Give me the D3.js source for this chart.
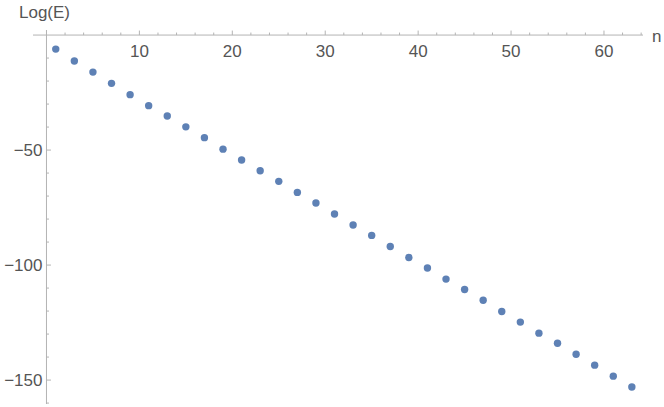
<!DOCTYPE html>
<html><head><meta charset="utf-8">
<script src="https://cdn.jsdelivr.net/npm/d3@7"></script>
<style>
html,body{margin:0;padding:0;background:#fff;}
svg{display:block;}
text{font-family:"Liberation Sans",Arial,sans-serif;fill:#555;}
</style></head>
<body>
<svg id="c" width="664" height="407"></svg>
<script>
const nValues = [1,3,5,7,9,11,13,15,17,19,21,23,25,27,29,31,33,35,37,39,41,43,45,47,49,51,53,55,57,59,61,63];
const logE = [-6.1,-11.3,-16.1,-21.0,-25.9,-30.7,-35.2,-39.9,-44.6,-49.6,-54.3,-59.0,-63.6,-68.4,-73.0,-77.8,-82.6,-87.1,-91.9,-96.7,-101.3,-106.1,-110.6,-115.3,-120.2,-124.8,-129.6,-134.0,-138.8,-143.5,-148.3,-153.0];
const xMajorTicks = [10,20,30,40,50,60];
const xMinorTicks = [2,4,6,8,12,14,16,18,22,24,26,28,32,34,36,38,42,44,46,48,52,54,56,58,62,64];
const yMajorTicks = [-50,-100,-150];
const yMinorTicks = [-10,-20,-30,-40,-60,-70,-80,-90,-110,-120,-130,-140,-160];
const xLabel = "n", yLabel = "Log(E)";

const svg = d3.select("#c");
const x = d3.scaleLinear().domain([-1.45, 64.2]).range([33, 643]);
const y = d3.scaleLinear().domain([2.2, -160.4]).range([30, 404]);
const axisColor = "#b3b3b3";
const x0 = x(0), y0 = y(0);

// x axis line
svg.append("line").attr("x1", x.range()[0]).attr("x2", x.range()[1])
  .attr("y1", y0).attr("y2", y0).attr("stroke", axisColor).attr("stroke-width", 1);
// y axis line
svg.append("line").attr("x1", x0).attr("x2", x0)
  .attr("y1", y.range()[0]).attr("y2", y.range()[1]).attr("stroke", axisColor).attr("stroke-width", 1);

// x ticks (pointing up)
svg.selectAll(".xmaj").data(xMajorTicks).enter().append("line")
  .attr("x1", d => x(d)).attr("x2", d => x(d)).attr("y1", y0).attr("y2", y0 - 4.5)
  .attr("stroke", axisColor);
svg.selectAll(".xmin").data(xMinorTicks).enter().append("line")
  .attr("x1", d => x(d)).attr("x2", d => x(d)).attr("y1", y0).attr("y2", y0 - 2.5)
  .attr("stroke", axisColor);
svg.selectAll(".xlab").data(xMajorTicks).enter().append("text")
  .attr("x", d => x(d)).attr("y", y0 + 22).attr("text-anchor", "middle")
  .style("font-size", "17px").text(d => d);

// y ticks (pointing right)
svg.selectAll(".ymaj").data(yMajorTicks).enter().append("line")
  .attr("x1", x0).attr("x2", x0 + 4.5).attr("y1", d => y(d)).attr("y2", d => y(d))
  .attr("stroke", axisColor);
svg.selectAll(".ymin").data(yMinorTicks).enter().append("line")
  .attr("x1", x0).attr("x2", x0 + 2.5).attr("y1", d => y(d)).attr("y2", d => y(d))
  .attr("stroke", axisColor);
svg.selectAll(".ylab").data(yMajorTicks).enter().append("text")
  .attr("x", x0 - 4).attr("y", d => y(d) + 6).attr("text-anchor", "end")
  .style("font-size", "17px").text(d => "\u2212" + Math.abs(d));

// axis labels
svg.append("text").attr("x", 19).attr("y", 18).style("font-size", "17px").text(yLabel);
svg.append("text").attr("x", 652).attr("y", 42).style("font-size", "17px").text(xLabel);

// points
svg.selectAll(".pt").data(nValues.map((n, i) => [n, logE[i]])).enter().append("circle")
  .attr("cx", d => x(d[0])).attr("cy", d => y(d[1])).attr("r", 3.7)
  .attr("fill", "#5E81B5");
</script>
</body></html>
